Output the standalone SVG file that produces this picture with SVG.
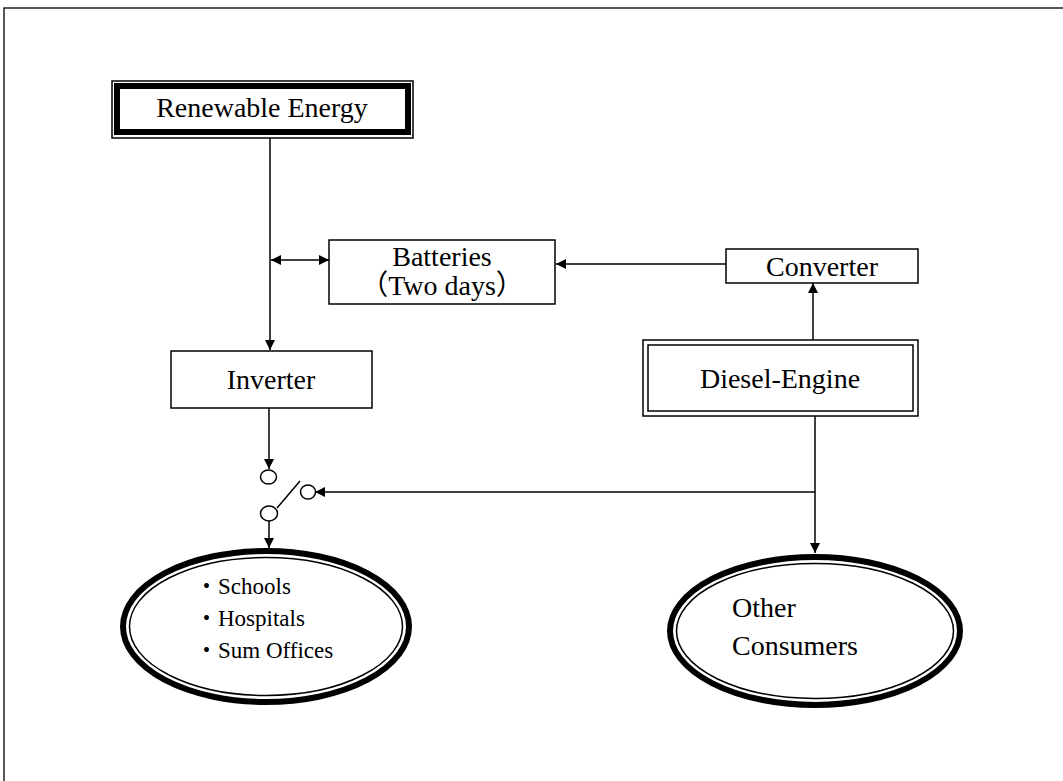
<svg xmlns="http://www.w3.org/2000/svg" width="1063" height="781" viewBox="0 0 1063 781">
  <style>
    .lbl { font-family: "Liberation Serif", "Noto Sans CJK JP", serif; font-size: 28px; fill: #000; }
    .small { font-family: "Liberation Serif", "Noto Sans CJK JP", serif; font-size: 23px; fill: #000; }
    .box { fill: #fff; stroke: #000; stroke-width: 1.5; }
    .thin { fill: none; stroke: #000; stroke-width: 1.5; }
    .thick { fill: none; stroke: #000; stroke-width: 6; }
    .wire { fill: none; stroke: #000; stroke-width: 1.5; }
  </style>
  <defs>
    <marker id="arr" viewBox="0 0 10 10" refX="10" refY="5" markerWidth="10" markerHeight="10" markerUnits="userSpaceOnUse" orient="auto">
      <path d="M0,0 L10,5 L0,10 Z" fill="#000"/>
    </marker>
    <marker id="arrStart" viewBox="0 0 10 10" refX="0" refY="5" markerWidth="10" markerHeight="10" markerUnits="userSpaceOnUse" orient="auto">
      <path d="M10,0 L0,5 L10,10 Z" fill="#000"/>
    </marker>
  </defs>

  <rect width="1063" height="781" fill="#fff"/>
  <!-- page frame -->
  <path d="M4,781 V8 H1063" fill="none" stroke="#222" stroke-width="1.5"/>

  <g id="connectors">
    <path class="wire" d="M270,138 V350" marker-end="url(#arr)"/>
    <path class="wire" d="M271,260 H329" marker-start="url(#arrStart)" marker-end="url(#arr)"/>
    <path class="wire" d="M726,264 H556" marker-end="url(#arr)"/>
    <path class="wire" d="M813,340 V283" marker-end="url(#arr)"/>
    <path class="wire" d="M269,408 V469" marker-end="url(#arr)"/>
    <path class="wire" d="M815,416 V553" marker-end="url(#arr)"/>
    <path class="wire" d="M815,492 H315" marker-end="url(#arr)"/>
    <path class="wire" d="M269,521 V548" marker-end="url(#arr)"/>
  </g>

  <g id="switch">
    <ellipse class="thin" cx="268.5" cy="477" rx="8" ry="7"/>
    <ellipse class="thin" cx="269" cy="513.5" rx="8.5" ry="7.5"/>
    <ellipse class="thin" cx="308" cy="492" rx="7.5" ry="7"/>
    <path class="wire" d="M277,508 L300,481"/>
  </g>

  <g id="renewable">
    <rect class="box" x="112" y="81" width="301" height="57"/>
    <rect class="thick" x="117" y="86" width="291" height="46"/>
    <text class="lbl" x="262" y="117" text-anchor="middle">Renewable Energy</text>
  </g>

  <g id="batteries">
    <rect class="box" x="329" y="240" width="226" height="64"/>
    <text class="lbl" x="442" y="266" text-anchor="middle">Batteries</text>
    <text class="lbl" x="442" y="295" text-anchor="middle">（Two days）</text>
  </g>

  <g id="converter">
    <rect class="box" x="726" y="249" width="192" height="34"/>
    <text class="lbl" x="822" y="276" text-anchor="middle">Converter</text>
  </g>

  <g id="inverter">
    <rect class="box" x="171" y="351" width="201" height="57"/>
    <text class="lbl" x="271" y="389" text-anchor="middle">Inverter</text>
  </g>

  <g id="diesel">
    <rect class="box" x="643" y="340" width="275" height="76"/>
    <rect class="thin" x="648" y="345" width="265" height="66"/>
    <text class="lbl" x="780" y="388" text-anchor="middle">Diesel-Engine</text>
  </g>

  <g id="public-users">
    <ellipse class="thick" cx="266" cy="626.5" rx="143" ry="75.5"/>
    <ellipse class="thin" cx="266" cy="626.5" rx="136.5" ry="69"/>
    <text class="small" x="195" y="594">・Schools</text>
    <text class="small" x="195" y="626">・Hospitals</text>
    <text class="small" x="195" y="658">・Sum Offices</text>
  </g>

  <g id="other-consumers">
    <ellipse class="thick" cx="815" cy="631" rx="145" ry="74"/>
    <ellipse class="thin" cx="815" cy="631" rx="138.5" ry="67.5"/>
    <text class="lbl" x="732" y="617">Other</text>
    <text class="lbl" x="732" y="655">Consumers</text>
  </g>
</svg>
